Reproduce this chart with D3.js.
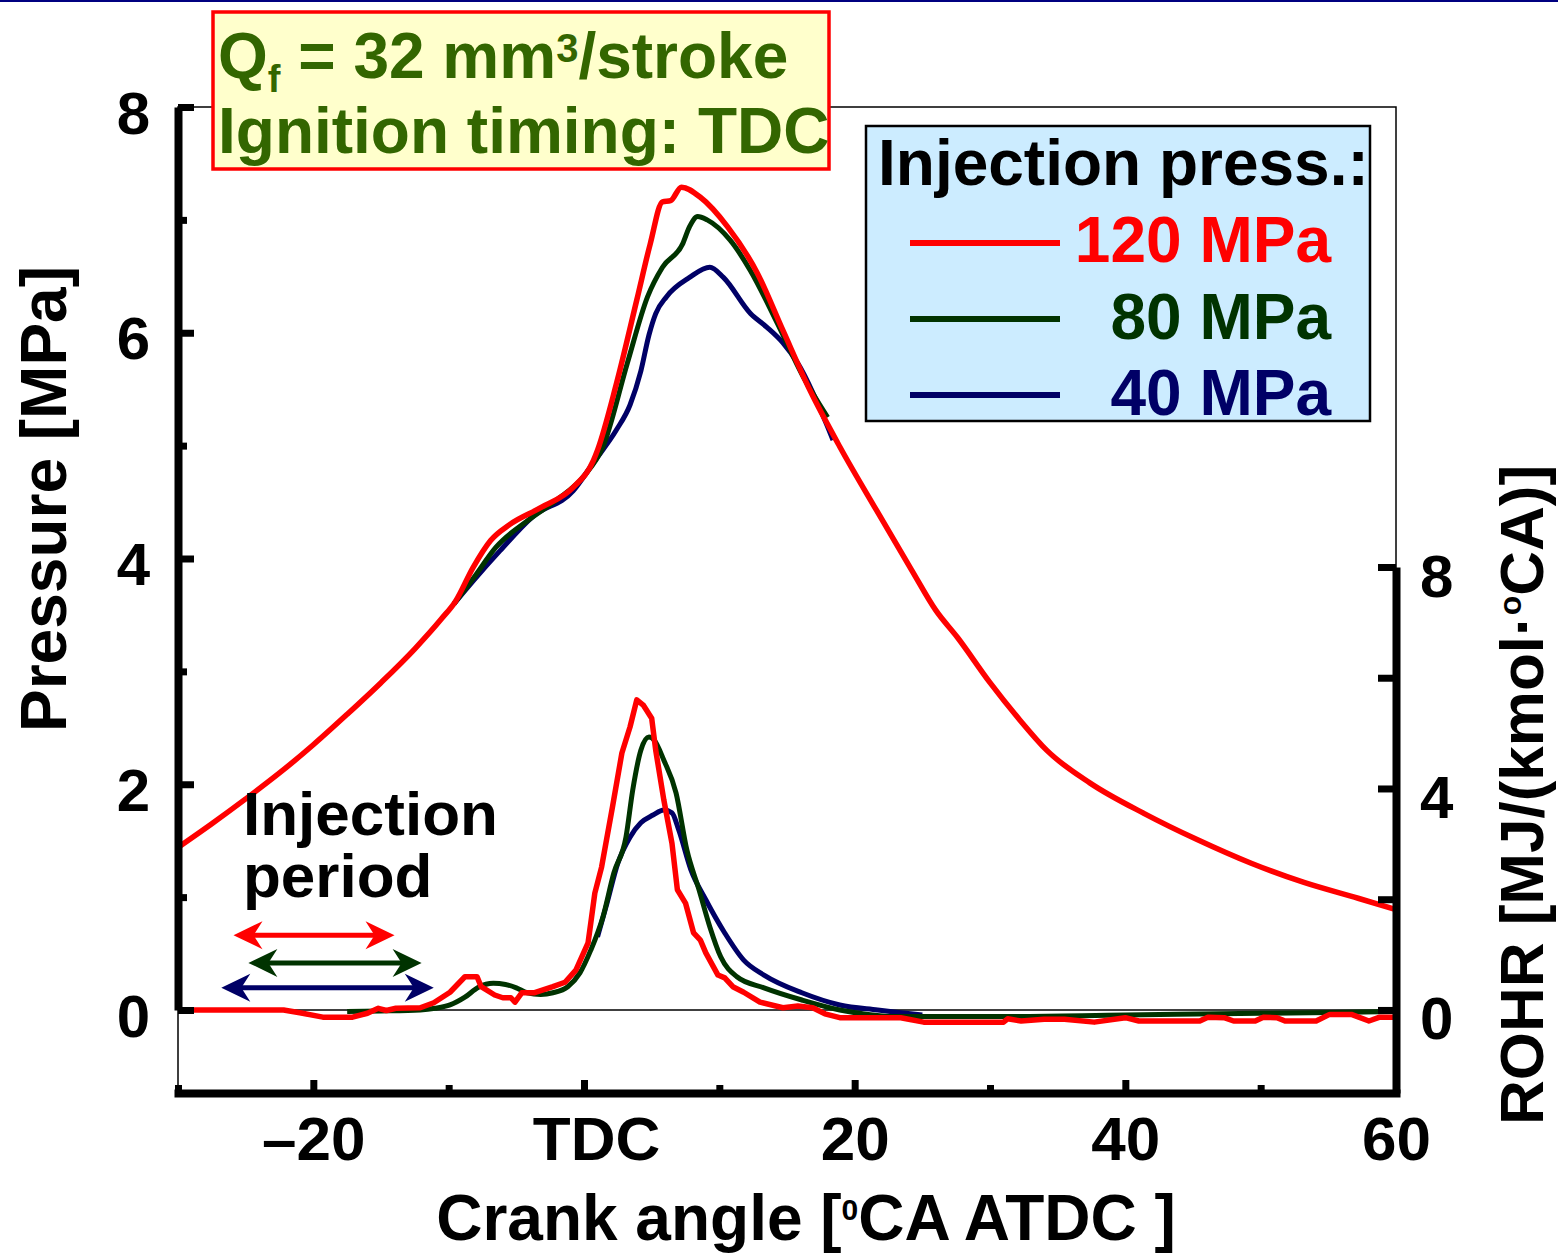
<!DOCTYPE html>
<html lang="en">
<head>
<meta charset="utf-8">
<title>Cylinder pressure and ROHR vs crank angle</title>
<script src="https://cdn.jsdelivr.net/npm/d3@7"></script>
<style>
body { margin: 0; background: #fff; }
text { font-family: "Liberation Sans", Arial, sans-serif; font-weight: bold; }
</style>
</head>
<body>
<script>
// ---- data (crank angle [deg ATDC], value) ----
var crankTicks = [-20, 0, 20, 40, 60];
var crankMinor = [-30, -10, 10, 30, 50];
var pressureTicks = [0, 2, 4, 6, 8];
var pressureMinor = [1, 3, 5, 7];
var rohrTicks = [0, 2, 4, 6, 8];

var seriesNames = ["120 MPa", "80 MPa", "40 MPa"];

var pressure120 = [[-30,1.44],[-27.5,1.65],[-25,1.87],[-22.5,2.10],[-20,2.35],[-17.5,2.62],[-15,2.90],[-12.5,3.20],[-10.5,3.47],[-9.5,3.62],[-8.2,3.92],[-6.9,4.16],[-5.5,4.30],[-3.2,4.45],[-0.8,4.63],[0.7,4.87],[1.0,4.96],[2.4,5.55],[3.9,6.29],[4.9,6.79],[5.8,7.16],[6.4,7.17],[7.2,7.29],[8.6,7.20],[10.6,6.94],[12.8,6.53],[14.7,6.02],[16.7,5.49],[18.9,4.99],[21.6,4.43],[24.2,3.90],[26.0,3.54],[27.6,3.30],[30.0,2.90],[32.2,2.57],[34.2,2.30],[37.4,2.01],[41.4,1.74],[45.3,1.51],[49.3,1.30],[53.2,1.13],[57.2,0.99],[60,0.89]];
var pressure80 = [[-9.6,3.60],[-8.2,3.82],[-6.5,4.10],[-4,4.35],[-2,4.52],[0,4.73],[1.4,4.99],[3.2,5.73],[4.7,6.32],[5.8,6.58],[7.3,6.79],[7.8,6.94],[8.4,7.03],[9.1,7.00],[10.8,6.82],[12.3,6.55],[14.3,6.08],[16.2,5.61],[18.0,5.25]];
var pressure40 = [[-9.6,3.60],[-8.2,3.80],[-6.2,4.07],[-3.8,4.37],[-0.8,4.60],[0.7,4.85],[2.4,5.14],[3.4,5.36],[4.2,5.66],[4.8,5.98],[5.3,6.17],[6.1,6.32],[7.8,6.49],[9.3,6.58],[10.3,6.49],[12.3,6.17],[13.5,6.05],[14.7,5.91],[15.8,5.73],[18.4,5.05]];

var rohr120 = [[-30,0],[-22.2,0],[-21,-0.05],[-19.3,-0.13],[-17.1,-0.13],[-16,-0.06],[-15.2,0.03],[-14.6,-0.01],[-13.9,0.03],[-12.1,0.04],[-11.1,0.13],[-9.9,0.32],[-8.8,0.60],[-7.9,0.60],[-7.6,0.42],[-6.6,0.27],[-6.0,0.22],[-5.4,0.22],[-5.1,0.14],[-4.6,0.31],[-3.7,0.31],[-2.3,0.42],[-1.4,0.50],[-0.6,0.72],[0.3,1.21],[0.5,1.57],[0.8,2.11],[1.3,2.58],[2.1,3.66],[2.8,4.64],[3.4,5.11],[3.9,5.60],[4.4,5.50],[5.0,5.27],[5.3,4.69],[5.9,3.79],[6.5,3.01],[6.9,2.17],[7.5,1.93],[8.1,1.39],[8.6,1.26],[9.0,1.03],[9.9,0.63],[10.4,0.58],[11.0,0.42],[11.8,0.32],[13.0,0.14],[14.7,0.04],[15.8,0.07],[16.9,0.04],[17.8,-0.07],[18.9,-0.14],[23.4,-0.14],[25.1,-0.22],[31,-0.22],[31.3,-0.16],[32.3,-0.20],[34,-0.17],[35.5,-0.17],[37.7,-0.22],[40,-0.14],[41,-0.20],[45.5,-0.20],[46.1,-0.13],[47.3,-0.14],[48,-0.20],[49.6,-0.20],[50.2,-0.13],[51.2,-0.14],[51.8,-0.20],[54.1,-0.20],[55.1,-0.08],[56.7,-0.08],[58,-0.20],[58.8,-0.13],[60,-0.13]];
var rohr80 = [[-17.5,-0.03],[-15,-0.02],[-12.1,0],[-11,0.03],[-9.9,0.09],[-8.8,0.23],[-7.8,0.41],[-6.7,0.48],[-5.8,0.46],[-5.0,0.40],[-4.2,0.31],[-3.2,0.28],[-2.3,0.31],[-1.2,0.42],[-0.3,0.67],[0.5,1.08],[1.4,1.68],[2.2,2.47],[3.1,3.12],[3.6,3.97],[4.2,4.69],[4.8,4.93],[5.2,4.87],[5.9,4.51],[6.8,3.92],[7.6,2.89],[8.5,2.17],[9.3,1.50],[10.1,0.96],[11.3,0.60],[13.3,0.40],[16.1,0.18],[18.9,0.0],[21,-0.08],[23.2,-0.12],[30.8,-0.12],[40,-0.09],[50,-0.06],[60,-0.03]];
var rohr40 = [[1.0,1.32],[1.7,1.93],[2.5,2.65],[3.4,3.12],[4.2,3.38],[5.1,3.52],[5.9,3.61],[6.5,3.56],[7.0,3.25],[7.9,2.53],[9.0,1.99],[10.4,1.39],[11.8,0.90],[13.3,0.63],[16.1,0.31],[18.9,0.09],[21.7,0.0],[25.0,-0.09]];

// injection periods: start / end crank angle, drawn at a ROHR level
var injectionStart = [-25.9, -24.8, -26.8];
var injectionEnd = [-14.0, -12.0, -11.1];
var injectionLevel = [1.35, 0.85, 0.40];

var colors = {"120 MPa": "#ff0000", "80 MPa": "#003300", "40 MPa": "#000066"};

var width = 1558, height = 1254;

var svg = d3.select("body").append("svg")
	.attr("width", width)
	.attr("height", height)

svg.append("rect").attr("x", 0).attr("y", 0).attr("width", width).attr("height", 2).attr("fill", "#000080")

var x = d3.scaleLinear().domain([-30, 60]).range([178, 1396]);
var yP = d3.scaleLinear().domain([0, 8]).range([1010, 107]);
var yR = d3.scaleLinear().domain([-1.5, 8]).range([1093, 567]);

// thin frame + zero line
svg.append("rect")
	.attr("x", x(-30)).attr("y", yP(8))
	.attr("width", x(60) - x(-30)).attr("height", yR(-1.5) - yP(8))
	.attr("fill", "none").attr("stroke", "#000").attr("stroke-width", 1.5)
svg.append("line")
	.attr("x1", x(-30)).attr("x2", x(60)).attr("y1", yP(0)).attr("y2", yP(0))
	.attr("stroke", "#000").attr("stroke-width", 1.5)

// curves
var pLine = d3.line().x(d => x(d[0])).y(d => yP(d[1])).curve(d3.curveMonotoneX);
var rSmooth = d3.line().x(d => x(d[0])).y(d => yR(d[1])).curve(d3.curveMonotoneX);
var rRough = d3.line().x(d => x(d[0])).y(d => yR(d[1]));

var curves = [
	{name: "40 MPa", d: rSmooth(rohr40)},
	{name: "80 MPa", d: rSmooth(rohr80)},
	{name: "120 MPa", d: rRough(rohr120)},
	{name: "40 MPa", d: pLine(pressure40)},
	{name: "80 MPa", d: pLine(pressure80)},
	{name: "120 MPa", d: pLine(pressure120)}
];
svg.append("g").selectAll("path")
	.data(curves)
	.enter()
	.append("path")
	.attr("d", d => d.d)
	.attr("fill", "none")
	.attr("stroke", d => colors[d.name])
	.attr("stroke-width", d => d.name == "120 MPa" ? 5.5 : 5)
	.attr("stroke-linejoin", "round")

// axes
function styleAxis(g, fs) {
	g.attr("font-family", null).attr("font-size", null)
	g.select(".domain").attr("stroke-width", 8).attr("stroke-linecap", "square")
	g.selectAll(".tick line").attr("stroke-width", 7)
	g.selectAll(".tick text").style("font-size", fs + "px").attr("fill", "#000")
}

var leftAxis = svg.append("g").attr("transform", "translate(" + x(-30) + ",0)")
	.call(d3.axisLeft(yP).tickValues(pressureTicks).tickSizeInner(-16).tickSizeOuter(0).tickPadding(28))
styleAxis(leftAxis, 60)
leftAxis.select(".domain").attr("stroke-linecap", "butt")
leftAxis.selectAll(".tick text").attr("dy", 26)
svg.append("g").attr("transform", "translate(" + x(-30) + ",0)")
	.call(d3.axisLeft(yP).tickValues(pressureMinor).tickSizeInner(-9).tickSizeOuter(0).tickFormat(""))
	.call(g => { g.select(".domain").remove(); g.selectAll(".tick line").attr("stroke-width", 7) })

var bottomAxis = svg.append("g").attr("transform", "translate(0," + yR(-1.5) + ")")
	.call(d3.axisBottom(x).tickValues(crankTicks).tickSizeInner(-13).tickSizeOuter(0)
		.tickFormat(d => d == 0 ? "TDC" : d < 0 ? "\u2013" + Math.abs(d) : d))
styleAxis(bottomAxis, 62)
bottomAxis.selectAll(".tick text").attr("y", 67).attr("dy", 0)
	.attr("x", d => d == 0 ? 12 : 0)
svg.append("g").attr("transform", "translate(0," + yR(-1.5) + ")")
	.call(d3.axisBottom(x).tickValues(crankMinor).tickSizeInner(-8).tickSizeOuter(0).tickFormat(""))
	.call(g => { g.select(".domain").remove(); g.selectAll(".tick line").attr("stroke-width", 7) })

var rightAxis = svg.append("g").attr("transform", "translate(" + x(60) + ",0)")
	.call(d3.axisRight(yR).tickValues(rohrTicks).tickSizeInner(-18).tickSizeOuter(0).tickPadding(24)
		.tickFormat(d => d % 4 == 0 ? d : ""))
styleAxis(rightAxis, 60)
rightAxis.select(".domain").attr("stroke-linecap", "butt")
rightAxis.selectAll(".tick text").attr("dy", 29)

// axis titles
svg.append("text")
	.attr("x", 806).attr("y", 1240)
	.attr("text-anchor", "middle").style("font-size", "64px")
	.call(t => {
		t.append("tspan").text("Crank angle [")
		t.append("tspan").text("0").style("font-size", "30px").attr("dy", -20)
		t.append("tspan").text("CA ATDC ]").attr("dy", 20)
	})

svg.append("text")
	.attr("transform", "translate(66,499) rotate(-90)")
	.attr("text-anchor", "middle").style("font-size", "64px")
	.text("Pressure [MPa]")

svg.append("text")
	.attr("transform", "translate(1543,795) rotate(-90)")
	.attr("text-anchor", "middle").style("font-size", "62px")
	.call(t => {
		t.append("tspan").text("ROHR [MJ/(kmol\u00b7")
		t.append("tspan").text("o").style("font-size", "32px").attr("dy", -22)
		t.append("tspan").text("CA)]").attr("dy", 22)
	})

// condition box (both lines in one text block)
svg.append("rect")
	.attr("x", 213).attr("y", 12).attr("width", 616).attr("height", 157)
	.attr("fill", "#ffffcc").attr("stroke", "#ff0000").attr("stroke-width", 3.5)
svg.append("text")
	.attr("x", 218).attr("y", 78).attr("fill", "#336600").style("font-size", "64px")
	.call(t => {
		t.append("tspan").text("Q")
		t.append("tspan").text("f").style("font-size", "38px").attr("dy", 14)
		t.append("tspan").text(" = 32 mm").attr("dy", -14)
		t.append("tspan").text("3").style("font-size", "40px").attr("dy", -16)
		t.append("tspan").text("/stroke").attr("dy", 16)
		t.append("tspan").attr("x", 218).attr("dy", 75).text("Ignition timing: TDC")
	})

// legend
var legend = svg.append("g")
legend.append("rect")
	.attr("x", 866).attr("y", 126).attr("width", 504).attr("height", 295)
	.attr("fill", "#ccecff").attr("stroke", "#000").attr("stroke-width", 2.5)
legend.append("text").attr("x", 878).attr("y", 185).style("font-size", "64px").text("Injection press.:")
for (var i = 0; i < seriesNames.length; i++) {
	legend.append("line")
		.attr("x1", 910).attr("x2", 1060).attr("y1", 243 + i * 76).attr("y2", 243 + i * 76)
		.attr("stroke", colors[seriesNames[i]]).attr("stroke-width", 6)
	legend.append("text")
		.attr("x", 1331).attr("y", 262 + i * 76.5).attr("text-anchor", "end")
		.attr("fill", colors[seriesNames[i]]).style("font-size", "64px")
		.text(seriesNames[i])
}

// injection period annotation
svg.append("text").attr("x", 243).attr("y", 835).style("font-size", "62px")
	.call(t => {
		t.append("tspan").text("Injection")
		t.append("tspan").attr("x", 243).attr("dy", 62).text("period")
	})

var arrows = svg.append("g")
for (var j = 0; j < seriesNames.length; j++) {
	var x1 = x(injectionStart[j]), x2 = x(injectionEnd[j]), yy = yR(injectionLevel[j]);
	var c = colors[seriesNames[j]];
	arrows.append("line").attr("x1", x1 + 18).attr("x2", x2 - 18).attr("y1", yy).attr("y2", yy)
		.attr("stroke", c).attr("stroke-width", 5)
	arrows.append("path")
		.attr("d", "M" + x1 + "," + yy + "L" + (x1 + 29) + "," + (yy - 14) + "L" + (x1 + 20) + "," + yy + "L" + (x1 + 29) + "," + (yy + 14) + "Z")
		.attr("fill", c)
	arrows.append("path")
		.attr("d", "M" + x2 + "," + yy + "L" + (x2 - 29) + "," + (yy - 14) + "L" + (x2 - 20) + "," + yy + "L" + (x2 - 29) + "," + (yy + 14) + "Z")
		.attr("fill", c)
}
</script>
</body>
</html>
